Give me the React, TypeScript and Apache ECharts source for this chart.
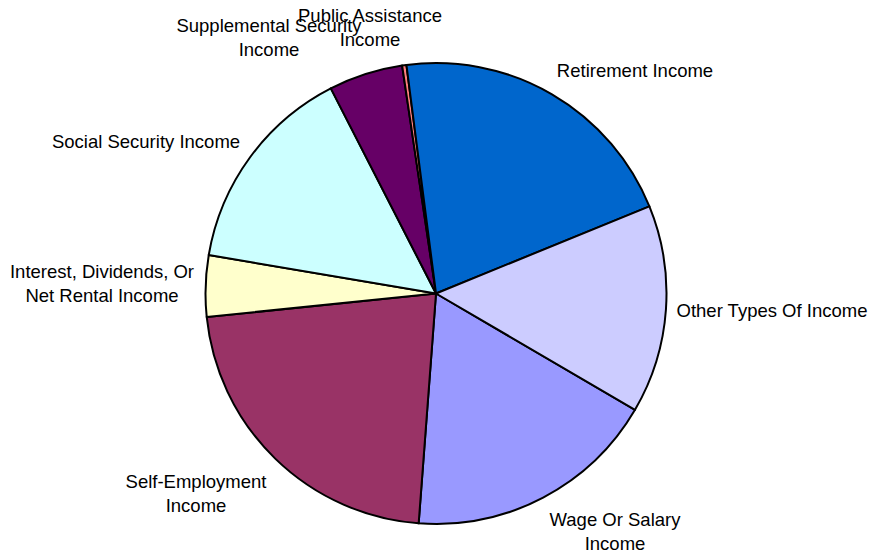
import React, { useEffect, useRef } from "react";
import * as echarts from "echarts";

// Data in drawing order (clockwise), Excel 2003 default palette order
const categories = [
  "Wage Or Salary\nIncome",
  "Self-Employment\nIncome",
  "Interest, Dividends, Or\nNet Rental Income",
  "Social Security Income",
  "Supplemental Security\nIncome",
  "Public Assistance\nIncome",
  "Retirement Income",
  "Other Types Of Income",
];
const values = [17.8, 22.2, 4.3, 14.8, 5.2, 0.3, 20.9, 14.6];
const colors = ["#9999FF", "#993366", "#FFFFCC", "#CCFFFF", "#660066", "#FF8080", "#0066CC", "#CCCCFF"];

// label centres (px)
const labelX = [615, 196, 102, 146, 269, 370, 635, 772];
const labelY = [531.5, 493, 283.5, 141.5, 37, 27.5, 70, 310];

export default function App() {
  const ref = useRef<HTMLDivElement>(null);
  useEffect(() => {
    if (!ref.current) return;
    const chart = echarts.init(ref.current, null, { renderer: "svg" });
    chart.setOption({
      animation: false,
      backgroundColor: "#ffffff",
      series: [
        {
          type: "pie",
          center: [436, 293.5],
          radius: 230.5,
          startAngle: -30.3,
          clockwise: true,
          avoidLabelOverlap: false,
          itemStyle: { borderColor: "#000000", borderWidth: 2 },
          label: {
            show: true,
            position: "outside",
            color: "#000000",
            fontFamily: "'Liberation Sans', Arial, sans-serif",
            fontSize: 18.5,
            lineHeight: 24,
            align: "center",
            formatter: "{b}",
          },
          labelLine: { show: false },
          labelLayout: (params: any) => ({
            x: labelX[params.dataIndex],
            y: labelY[params.dataIndex],
            align: "center",
            verticalAlign: "middle",
          }),
          emphasis: { disabled: true },
          data: categories.map((name, i) => ({
            name,
            value: values[i],
            itemStyle: { color: colors[i] },
          })),
        },
      ],
    });
    return () => chart.dispose();
  }, []);
  return (
    <div
      ref={ref}
      style={{ position: "fixed", left: 0, top: 0, width: 871, height: 556, background: "#fff" }}
    />
  );
}
